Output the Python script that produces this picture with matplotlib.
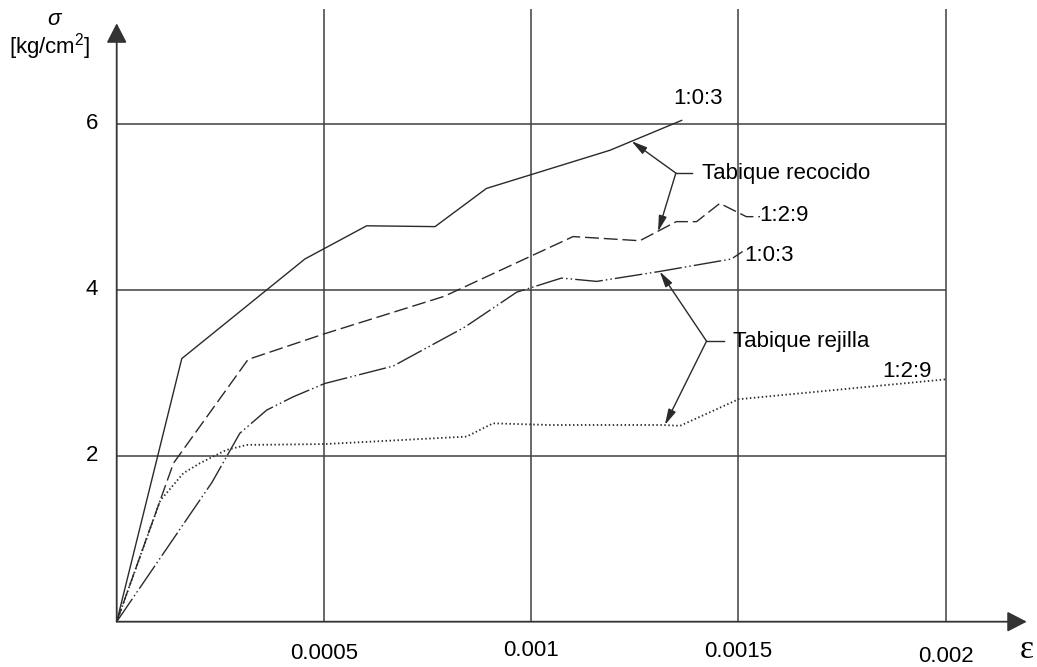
import numpy as np
import matplotlib
matplotlib.use('Agg')
import matplotlib.pyplot as plt

plt.rcParams['font.family'] = ['Liberation Sans', 'DejaVu Sans']
plt.rcParams['mathtext.fontset'] = 'custom'
plt.rcParams['mathtext.rm'] = 'Liberation Sans'
plt.rcParams['mathtext.it'] = 'Liberation Sans:italic'

# curvas esfuerzo-deformacion (deformacion unitaria, kg/cm2)
eps_recocido_103 = [0, 0.000157, 0.000454, 0.000603, 0.000768, 0.000892, 0.00119, 0.001363]
sig_recocido_103 = [0, 3.17, 4.37, 4.77, 4.76, 5.22, 5.68, 6.04]

eps_recocido_129 = [0, 0.000137, 0.000317, 0.000502, 0.00079, 0.001101, 0.001262,
                    0.00135, 0.001399, 0.001455, 0.001519, 0.001552]
sig_recocido_129 = [0, 1.91, 3.16, 3.47, 3.92, 4.64, 4.59, 4.82, 4.82, 5.04, 4.88, 4.88]

eps_rejilla_103 = [0, 0.00023, 0.000297, 0.000362, 0.000426, 0.000502, 0.000667, 0.00084,
                   0.000965, 0.001073, 0.001158, 0.00131, 0.001483, 0.00151]
sig_rejilla_103 = [0, 1.68, 2.27, 2.55, 2.71, 2.87, 3.08, 3.55, 3.97, 4.14, 4.10, 4.22, 4.37, 4.46]

eps_rejilla_129 = [0, 0.000105, 0.000161, 0.000201, 0.000265, 0.000314, 0.000502, 0.000844,
                   0.000908, 0.001045, 0.001318, 0.001359, 0.0015, 0.002]
sig_rejilla_129 = [0, 1.46, 1.79, 1.91, 2.07, 2.13, 2.14, 2.23, 2.39, 2.37, 2.37, 2.36, 2.68, 2.92]

x_ticks = [0.0005, 0.001, 0.0015, 0.002]
x_labels = ['0.0005', '0.001', '0.0015', '0.002']
y_ticks = [2, 4, 6]
y_labels = ['2', '4', '6']

ink = '#2a2a2a'

fig = plt.figure(figsize=(10.37, 6.67), dpi=100)
ax = fig.add_axes([0.11254, 0.06792, 0.79942, 0.91859])
ax.set_xlim(0, 0.002)
ax.set_ylim(0, 7.382)
ax.axis('off')

# reticula (a mano para que la ultima linea no quede cortada)
ax.hlines(y_ticks, 0, 0.002, color='#404040', lw=1.1, clip_on=False, zorder=1)
ax.vlines(x_ticks, 0, 7.382, color='#404040', lw=1.1, clip_on=False, zorder=1)

# curvas
ax.plot(eps_recocido_103, sig_recocido_103, color=ink, lw=1.0)
ax.plot(eps_recocido_129, sig_recocido_129, color=ink, lw=1.0, dashes=(10, 3.5))
ax.plot(eps_rejilla_103, sig_rejilla_103, color=ink, lw=1.0,
        dashes=(20, 2.2, 1.1, 2.2, 1.1, 2.2))
ax.plot(eps_rejilla_129, sig_rejilla_129, color=ink, lw=1.3, dashes=(0.8, 1.4))

# ejes con flecha
axis_arrow = dict(arrowstyle='-|>,head_length=1.2,head_width=0.62', mutation_scale=10,
                  color='#333333', lw=1.3, shrinkA=0, shrinkB=0)
ax.annotate('', xy=(0, 7.21), xytext=(0, 0), arrowprops=axis_arrow, annotation_clip=False)
ax.annotate('', xy=(0.0021956, 0), xytext=(0, 0), arrowprops=axis_arrow, annotation_clip=False)

# etiquetas de los ejes
fs = 16
x_label_y = [-0.385, -0.35, -0.36, -0.42]
for t, lab, yy in zip(x_ticks, x_labels, x_label_y):
    ax.text(t, yy, lab, ha='center', va='center', fontsize=fs)
for t, lab in zip(y_ticks, y_labels):
    ax.text(-0.00006, t, lab, ha='center', va='center', fontsize=fs)

ax.text(-0.000149, 7.25, r'$\sigma$', ha='center', va='center', fontsize=fs)
ax.text(-0.000161, 6.93, r'[kg/cm$^2$]', ha='center', va='center', fontsize=fs)
ax.text(0.002195, -0.34, 'ε', ha='center', va='center', fontsize=24,
        family='Liberation Serif')

# rotulos de las curvas
ax.text(0.001403, 6.306, '1:0:3', ha='center', va='center', fontsize=fs)
ax.text(0.00155, 4.90, '1:2:9', ha='left', va='center', fontsize=fs)
ax.text(0.001515, 4.418, '1:0:3', ha='left', va='center', fontsize=fs)
ax.text(0.001848, 3.01, '1:2:9', ha='left', va='center', fontsize=fs)


def bracket(junction, stub_x, targets, label):
    ax.plot([junction[0], stub_x], [junction[1], junction[1]], color=ink, lw=1.0)
    for t in targets:
        ax.annotate('', xy=t, xytext=junction,
                    arrowprops=dict(arrowstyle='-|>,head_length=0.95,head_width=0.24',
                                    mutation_scale=10, color=ink, lw=1.0,
                                    shrinkA=0, shrinkB=0))
    ax.text(stub_x + 0.000022, junction[1], label, ha='left', va='center', fontsize=fs)


bracket((0.001349, 5.405), 0.001389, [(0.001242, 5.79), (0.001306, 4.70)], 'Tabique recocido')
bracket((0.001423, 3.38), 0.001465, [(0.00131, 4.22), (0.0013225, 2.37)], 'Tabique rejilla')

fig.savefig('out.png', dpi=100)
